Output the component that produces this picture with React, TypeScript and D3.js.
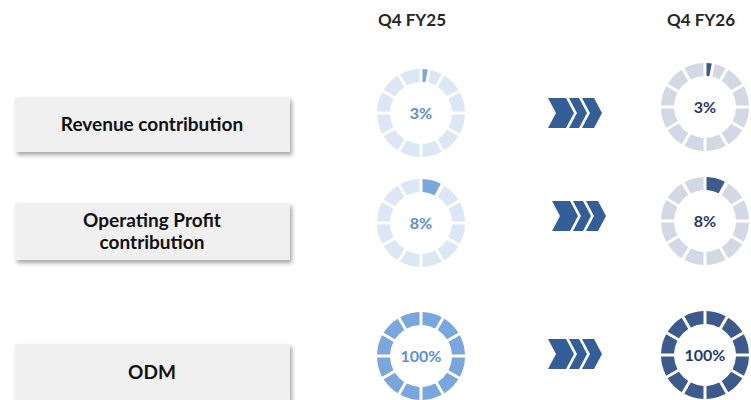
import React from "react";
import * as d3 from "d3";

const metrics = ["Revenue contribution", "Operating Profit|contribution", "ODM"];
const periods = ["Q4 FY25", "Q4 FY26"];
const fy25Values = [3, 8, 100];
const fy26Values = [3, 8, 100];

const W = 751;
const H = 400;
const FONT = "Lato, 'Open Sans', 'Liberation Sans', sans-serif";

const colX = [421, 705];
const headerX = [412, 701];
const rowCy = [
  [113, 107],
  [223, 221],
  [356, 355],
];
const boxTops = [97, 203, 344];
const boxH = [55, 57, 56];
const chevron = [
  { x: 548, cy: 113 },
  { x: 552, cy: 216 },
  { x: 548, cy: 354 },
];

const palette = [
  { pale: "#dbe7f5", fill: "#7aa6df", text: "#5b8fd6" },
  { pale: "#d3d8e5", fill: "#3d5a8d", text: "#1f3a6c" },
];

const SEG = 12;
const R_OUT = 44;
const R_IN = 31;
const arcGen = d3
  .arc<any>()
  .innerRadius(R_IN)
  .outerRadius(R_OUT)
  .padAngle(0.075)
  .padRadius(40);

function Donut({ cx, cy, value, col }: { cx: number; cy: number; value: number; col: number }) {
  const scale = d3.scaleLinear().domain([0, 100]).range([0, 2 * Math.PI]);
  const step = (2 * Math.PI) / SEG;
  const vEnd = scale(value);
  const pieces: { s: number; e: number; filled: boolean }[] = [];
  for (let i = 0; i < SEG; i++) {
    const s = i * step;
    const e = (i + 1) * step;
    if (vEnd >= e - 1e-9) pieces.push({ s, e, filled: true });
    else if (vEnd > s) {
      pieces.push({ s, e: vEnd, filled: true });
      pieces.push({ s: vEnd, e, filled: false });
    } else pieces.push({ s, e, filled: false });
  }
  const c = palette[col];
  return (
    <g transform={`translate(${cx},${cy})`}>
      {pieces
        .filter((p) => p.e - p.s > 0.08)
        .map((p, i) => (
          <path
            key={i}
            d={arcGen({ startAngle: p.s, endAngle: p.e }) || ""}
            fill={p.filled ? c.fill : c.pale}
          />
        ))}
      <text
        x={0}
        y={0}
        dy="0.35em"
        textAnchor="middle"
        fontFamily={FONT}
        fontWeight={700}
        fontSize={16}
        fill={c.text}
      >
        {value}%
      </text>
    </g>
  );
}

function Chevrons({ x, cy }: { x: number; cy: number }) {
  const h = 15;
  const d = 8;
  const gap = 3;
  const widths = [18, 10, 12];
  let x0 = x;
  const polys: string[] = [];
  widths.forEach((t) => {
    const pts = [
      [x0, cy - h],
      [x0 + t, cy - h],
      [x0 + t + d, cy],
      [x0 + t, cy + h],
      [x0, cy + h],
      [x0 + d, cy],
    ];
    polys.push(pts.map((p) => p.join(",")).join(" "));
    x0 = x0 + t + gap;
  });
  return (
    <g>
      {polys.map((p, i) => (
        <polygon key={i} points={p} fill="#335e98" />
      ))}
    </g>
  );
}

export default function App() {
  const series = [fy25Values, fy26Values];
  return (
    <svg
      width={W}
      height={H}
      style={{ position: "absolute", left: 0, top: 0, background: "#fff" }}
    >
      <defs>
        <filter id="sh" x="-10%" y="-20%" width="130%" height="160%">
          <feDropShadow dx="2" dy="3" stdDeviation="2" floodColor="#000" floodOpacity="0.35" />
        </filter>
      </defs>
      {periods.map((p, i) => (
        <text
          key={p}
          x={headerX[i]}
          y={20}
          dy="0.35em"
          textAnchor="middle"
          fontFamily={FONT}
          fontWeight={700}
          fontSize={17}
          fill="#262626"
        >
          {p}
        </text>
      ))}
      {metrics.map((m, r) => {
        const lines = m.split("|");
        const top = boxTops[r];
        const cy = top + boxH[r] / 2;
        return (
          <g key={m}>
            <rect x={15} y={top} width={275} height={boxH[r]} fill="#f0f0f0" filter="url(#sh)" />
            {lines.map((l, j) => (
              <text
                key={j}
                x={152}
                y={cy + (j - (lines.length - 1) / 2) * 22}
                dy="0.35em"
                textAnchor="middle"
                fontFamily={FONT}
                fontWeight={700}
                fontSize={19}
                fill="#111"
              >
                {l}
              </text>
            ))}
            <Chevrons x={chevron[r].x} cy={chevron[r].cy} />
            {series.map((vals, c) => (
              <Donut key={c} cx={colX[c]} cy={rowCy[r][c]} value={vals[r]} col={c} />
            ))}
          </g>
        );
      })}
    </svg>
  );
}
